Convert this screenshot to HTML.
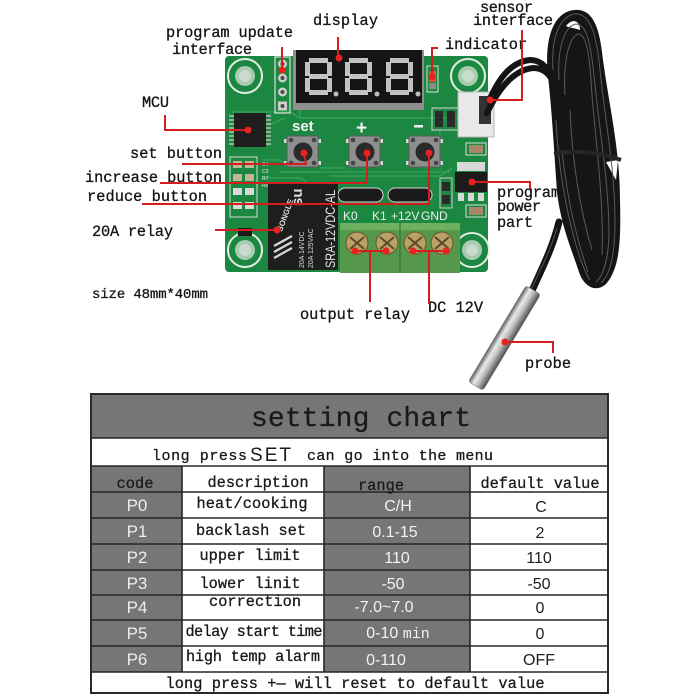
<!DOCTYPE html>
<html><head><meta charset="utf-8"><style>
html,body{margin:0;padding:0;background:#fff;width:700px;height:700px;overflow:hidden}
svg{display:block}
.l{font-family:"Liberation Mono",monospace;font-size:15.3px;fill:#151515;stroke:#151515;stroke-width:.3}
.m{font-family:"Liberation Mono",monospace;fill:#1a1a1a;stroke:#1a1a1a;stroke-width:.3}
.s{font-family:"Liberation Sans",sans-serif}
</style></head><body>
<svg width="700" height="700" viewBox="0 0 700 700" xmlns="http://www.w3.org/2000/svg">
<defs>
 <linearGradient id="probe" x1="0" y1="0" x2="1" y2="0">
  <stop offset="0" stop-color="#5e5e5e"/><stop offset=".3" stop-color="#e9e9e9"/><stop offset=".55" stop-color="#c4c4c4"/><stop offset="1" stop-color="#4d4d4d"/>
 </linearGradient>
 <g id="dig" fill="#c2c2c2">
  <rect x="4" y="0" width="19" height="5"/>
  <rect x="22" y="4" width="5" height="14"/>
  <rect x="22" y="20" width="5" height="14"/>
  <rect x="4" y="32" width="19" height="5"/>
  <rect x="0" y="20" width="5" height="14"/>
  <rect x="0" y="4" width="5" height="14"/>
  <rect x="4" y="16" width="19" height="5"/>
 </g>
 <g id="btn">
  <rect x="-3" y="-13" width="37" height="4" fill="#d8d8d8"/>
  <rect x="-3" y="9" width="37" height="4" fill="#d8d8d8"/>
  <rect x="0" y="-16" width="31" height="31" fill="#8e8e8e" stroke="#5a5a5a"/>
  <circle cx="4" cy="-12" r="2.3" fill="#444"/><circle cx="27" cy="-12" r="2.3" fill="#444"/>
  <circle cx="4" cy="11" r="2.3" fill="#444"/><circle cx="27" cy="11" r="2.3" fill="#444"/>
  <circle cx="16" cy="0" r="9.5" fill="#2a2a2a"/>
 </g>
</defs>

<!-- PCB -->
<rect x="225" y="56" width="263" height="216" rx="4" fill="#1c8740"/>
<g stroke="#3aa85c" stroke-width="1.4" fill="none" opacity=".8">
 <path d="M232 112 H290 L300 118 H470"/>
 <path d="M268 125 L285 118"/>
 <path d="M280 172 H450"/>
 <path d="M262 178 H300 L310 184 H335"/>
 <path d="M440 130 V170"/>
 <path d="M300 118 V100"/>
 <path d="M330 176 H440 L452 168"/>
 <path d="M262 160 H280 L286 166"/>
 <path d="M320 168 H345"/>
</g>
<!-- mounting holes -->
<g fill="none" stroke="#e3eee3" stroke-width="2">
 <circle cx="245" cy="76" r="17"/><circle cx="468" cy="76" r="17"/>
 <circle cx="245" cy="250" r="17"/><circle cx="472" cy="250" r="17"/>
</g>
<g fill="#a8ccb0"><circle cx="245" cy="76" r="10"/><circle cx="468" cy="76" r="10"/><circle cx="245" cy="250" r="10"/><circle cx="472" cy="250" r="10"/></g>
<g fill="#c9dbcd"><circle cx="245" cy="76" r="6"/><circle cx="468" cy="76" r="6"/><circle cx="245" cy="250" r="6"/><circle cx="472" cy="250" r="6"/></g>

<!-- display -->
<rect x="293" y="50" width="131" height="60" fill="#8f8f8f"/>
<rect x="296" y="50" width="126" height="53" fill="#151515"/>
<use href="#dig" x="305" y="58"/>
<use href="#dig" x="345" y="58"/>
<use href="#dig" x="386" y="58"/>
<g fill="#bdbdbd"><circle cx="336" cy="94" r="2.5"/><circle cx="377" cy="94" r="2.5"/><circle cx="418" cy="94" r="2.5"/></g>

<!-- header pins -->
<rect x="275" y="57" width="15" height="56" fill="none" stroke="#e0e0e0" stroke-width="1.2"/>
<g fill="#cfcfcf"><circle cx="282.5" cy="64" r="4.5"/><circle cx="282.5" cy="78" r="4.5"/><circle cx="282.5" cy="92" r="4.5"/><rect x="278" y="101.5" width="9" height="9"/></g>
<g fill="#4a4a4a"><circle cx="282.5" cy="64" r="2"/><circle cx="282.5" cy="78" r="2"/><circle cx="282.5" cy="92" r="2"/><circle cx="282.5" cy="106" r="2"/></g>

<!-- LED -->
<rect x="427" y="66" width="11" height="26" fill="none" stroke="#dcdcdc"/>
<rect x="429" y="71" width="7" height="11" fill="#d4553a"/>
<rect x="429" y="83" width="7" height="6" fill="#8a8a8a"/>
<rect x="432" y="108" width="26" height="22" fill="none" stroke="#d5d5d5"/>
<rect x="435" y="111" width="8" height="16" fill="#2a2a2a"/><rect x="447" y="111" width="8" height="16" fill="#2a2a2a"/>

<!-- MCU -->
<g stroke="#bdbdbd" stroke-width="1.6">
 <path d="M229 116H235M229 120H235M229 124H235M229 128H235M229 132H235M229 136H235M229 140H235M229 144H235"/>
 <path d="M265 116H271M265 120H271M265 124H271M265 128H271M265 132H271M265 136H271M265 140H271M265 144H271"/>
</g>
<rect x="234" y="113" width="32" height="34" fill="#1f1f1f"/>

<text x="292" y="131" class="s" font-size="15" font-weight="bold" fill="#f4f4f4">set</text>
<text x="356" y="134" class="s" font-size="19" font-weight="bold" fill="#f4f4f4">+</text>
<rect x="414" y="125" width="9" height="2.5" fill="#f0f0f0"/>

<use href="#btn" x="287" y="152"/>
<use href="#btn" x="349" y="152"/>
<use href="#btn" x="409" y="152"/>

<!-- left SMDs -->
<rect x="230" y="157" width="27" height="60" fill="none" stroke="#d8d8d8" stroke-width="1"/>
<g fill="#c3b397"><rect x="233" y="161" width="9" height="7"/><rect x="245" y="161" width="9" height="7"/><rect x="233" y="174" width="9" height="7"/><rect x="245" y="174" width="9" height="7"/></g>
<g fill="#d8d8d8"><rect x="233" y="188" width="9" height="7"/><rect x="245" y="188" width="9" height="7"/><rect x="233" y="202" width="9" height="7"/><rect x="245" y="202" width="9" height="7"/></g>
<g class="s" font-size="5" fill="#eee"><text x="262" y="166">C4</text><text x="262" y="173">C3</text><text x="262" y="180">R7</text><text x="262" y="187">R6</text></g>
<rect x="238" y="228" width="14" height="8" fill="#1b1b1b"/>

<!-- jumpers -->
<rect x="338" y="188" width="45" height="14" rx="7" fill="#1a1a1a" stroke="#d5d5d5"/>
<rect x="388" y="188" width="44" height="14" rx="7" fill="#1a1a1a" stroke="#d5d5d5"/>
<rect x="440" y="178" width="12" height="30" fill="none" stroke="#ccc"/>
<rect x="442" y="182" width="8" height="9" fill="#2a2a2a"/><rect x="442" y="195" width="8" height="9" fill="#2a2a2a"/>

<!-- relay -->
<rect x="268" y="184" width="70" height="86" fill="#1e1e1e"/>
<g stroke="#d8d8d8" stroke-width="2.2">
 <path d="M274 246L292 236M274 252L292 242M274 258L292 248"/>
</g>
<text transform="translate(282,232) rotate(-70)" class="s" font-size="8" font-weight="bold" fill="#ddd">SONGLE</text>
<text transform="translate(302,206) rotate(-90)" class="s" font-size="15" font-weight="bold" fill="#ddd">su</text>
<text transform="translate(304,268) rotate(-90)" class="s" font-size="7" fill="#ddd">20A 14VDC</text>
<text transform="translate(313,268) rotate(-90)" class="s" font-size="7" fill="#ddd">20A 125VAC</text>
<text transform="translate(335,268) rotate(-90)" class="s" font-size="13.5" fill="#e6e6e6" textLength="78" lengthAdjust="spacingAndGlyphs">SRA-12VDC-AL</text>

<g class="s" font-size="12" fill="#f0f0f0">
 <text x="343" y="220">K0</text><text x="372" y="220">K1</text><text x="391" y="220">+12V</text><text x="421" y="220">GND</text>
</g>
<rect x="340" y="223" width="120" height="50" fill="#55984b"/>
<rect x="340" y="223" width="120" height="7" fill="#6cb060"/>
<path d="M400 223V273" stroke="#3d7a36" stroke-width="1.5"/>
<g fill="#b9a265" stroke="#6e5f35" stroke-width="1.2">
 <circle cx="357" cy="243" r="11"/><circle cx="387" cy="243" r="11"/><circle cx="415" cy="243" r="11"/><circle cx="442" cy="243" r="11"/>
</g>
<g stroke="#5a4a2a" stroke-width="2">
 <path d="M350 237L364 249M350 249L364 237M380 237L394 249M380 249L394 237M408 237L422 249M408 249L422 237M435 237L449 249M435 249L449 237"/>
</g>

<!-- right side parts -->
<rect x="458" y="92" width="36" height="45" fill="#e9e9e9" stroke="#b5b5b5"/>
<rect x="479" y="96" width="12" height="28" fill="#333"/>
<rect x="466" y="143" width="20" height="12" fill="none" stroke="#ddd"/>
<rect x="469" y="145" width="14" height="8" fill="#a8856a"/>
<rect x="457" y="162" width="28" height="9" fill="#d8d8d8"/>
<rect x="455" y="172" width="32" height="20" fill="#1b1b1b"/>
<g fill="#d8d8d8"><rect x="458" y="193" width="6" height="8"/><rect x="468" y="193" width="6" height="8"/><rect x="478" y="193" width="6" height="8"/></g>
<rect x="466" y="205" width="20" height="12" fill="none" stroke="#ddd"/>
<rect x="469" y="207" width="14" height="8" fill="#a8856a"/>

<!-- annotation labels -->
<text class="l" x="313" y="25" textLength="65">display</text>
<text class="l" x="166" y="37" textLength="127">program update</text>
<text class="l" x="172" y="54" textLength="80">interface</text>
<text class="l" x="142" y="107" textLength="27">MCU</text>
<text class="l" x="130" y="158" textLength="92">set button</text>
<text class="l" x="85" y="182" textLength="137">increase button</text>
<text class="l" x="87" y="201" textLength="120">reduce button</text>
<text class="l" x="92" y="236" textLength="81">20A relay</text>
<text class="l" x="92" y="298" textLength="116" style="font-size:14px">size 48mm*40mm</text>
<text class="l" x="300" y="319" textLength="110">output relay</text>
<text class="l" x="428" y="312" textLength="55">DC 12V</text>
<text class="l" x="480" y="12" textLength="53">sensor</text>
<text class="l" x="473" y="25" textLength="80">interface</text>
<text class="l" x="445" y="49" textLength="82">indicator</text>
<text class="l" x="497" y="197" textLength="63">program</text>
<text class="l" x="497" y="211" textLength="44">power</text>
<text class="l" x="497" y="227" textLength="36">part</text>
<text class="l" x="525" y="368" textLength="46">probe</text>

<!-- cable -->
<g fill="none" stroke="#141414" stroke-linecap="round">
 <path d="M489 101 C498 80 510 62 530 60 C540 60 546 66 550 74" stroke-width="6"/>
 <path d="M487 113 C497 92 512 70 533 68 C542 68 548 72 552 80" stroke-width="6"/>
</g>
<path d="M548 76 C544 40 553 12 574 10 C594 8 600 30 603 60 C609 105 620 150 620 200 C621 240 620 268 606 284 C596 293 584 287 579 272 C570 245 561 225 557 192 C554 150 552 112 548 76 Z" fill="#151515"/>
<path d="M566 26 C572 18 580 20 580 30 C575 28 570 28 566 26 Z" fill="#fff"/>
<path d="M606 162 L618 160 L616 180 Z" fill="#fff"/>
<g fill="none" stroke="#5a5a5a" stroke-width="1">
 <path d="M553 70 C551 40 558 18 574 14 C592 12 597 40 600 70 C605 120 615 170 615 220 C615 255 610 275 601 283"/>
 <path d="M559 80 C557 50 564 26 576 24 C589 24 592 55 595 85 C600 135 609 185 609 235 C608 260 604 275 596 282"/>
 <path d="M565 95 C563 65 568 38 578 34 C588 34 590 62 592 95 C596 145 604 200 602 255"/>
 <path d="M556 120 C558 165 566 210 576 245 C581 262 586 274 590 280"/>
 <path d="M562 150 C567 200 577 240 588 272"/>
 <path d="M570 110 C572 160 580 210 592 250"/>
</g>
<path d="M554 154 C575 150 600 152 621 160" fill="none" stroke="#262626" stroke-width="4"/>
<path d="M559 222 C552 250 541 270 531 293" fill="none" stroke="#141414" stroke-width="7" stroke-linecap="round"/>
<path d="M557 228 C550 252 540 270 532 288" fill="none" stroke="#555" stroke-width="1"/>

<rect x="-8.5" y="-56" width="17" height="112" rx="3" transform="translate(504.5,338) rotate(31)" fill="url(#probe)" stroke="#777" stroke-width=".6"/>

<!-- red annotation lines -->
<g fill="none" stroke="#d21e1e" stroke-width="2">
 <path d="M338 37V58"/>
 <path d="M282 47V70"/>
 <path d="M165 115V130H248"/>
 <path d="M182 164H306L304 153"/>
 <path d="M160 183H367V153"/>
 <path d="M142 204H429V153"/>
 <path d="M215 230H277"/>
 <path d="M355 251H386M370 251V302"/>
 <path d="M413 251H446M429 251V304"/>
 <path d="M438 48H432V77"/>
 <path d="M522 30V100H490"/>
 <path d="M472 182H530V189"/>
 <path d="M505 342H553V353"/>
</g>
<g fill="#e8221f">
 <circle cx="339" cy="58" r="3.5"/><circle cx="282" cy="70" r="3.5"/><circle cx="248" cy="130" r="3.5"/>
 <circle cx="304" cy="153" r="3.5"/><circle cx="367" cy="153" r="3.5"/><circle cx="429" cy="153" r="3.5"/>
 <circle cx="277" cy="230" r="3.5"/><circle cx="355" cy="251" r="3.5"/><circle cx="386" cy="251" r="3.5"/>
 <circle cx="413" cy="251" r="3.5"/><circle cx="446" cy="251" r="3.5"/><circle cx="432" cy="77" r="3.5"/>
 <circle cx="490" cy="100" r="3.5"/><circle cx="472" cy="182" r="3.5"/><circle cx="505" cy="342" r="3.5"/>
</g>

<!-- TABLE -->
<rect x="91" y="394" width="517" height="299" fill="#fff"/>
<g fill="#767676">
 <rect x="91" y="394" width="517" height="44"/>
 <rect x="91" y="466" width="91" height="206"/>
 <rect x="324" y="466" width="146" height="206"/>
</g>
<g stroke="#262626" stroke-width="1.6" fill="none">
 <path d="M91 438H608M91 466H608M91 492H608M91 518H608M91 544H608M91 570H608M91 595H608M91 620H608M91 646H608M91 672H608"/>
 <path d="M182 466V672M324 466V672M470 466V672"/>
</g>
<rect x="91" y="394" width="517" height="299" fill="none" stroke="#2a2a2a" stroke-width="2"/>

<text class="m" x="251" y="426" font-size="28" textLength="220">setting chart</text>
<text class="m" x="152" y="460" font-size="15" textLength="95">long press</text>
<text x="250" y="461" class="s" font-size="19" fill="#1a1a1a" textLength="41">SET</text>
<text class="m" x="307" y="460" font-size="15" textLength="186">can go into the menu</text>

<g class="m" font-size="15.3" text-anchor="middle">
 <text x="135" y="488" textLength="37">code</text>
 <text x="258" y="487" textLength="101">description</text>
 <text x="381" y="490" textLength="46">range</text>
 <text x="540" y="488" textLength="119">default value</text>
 <text x="252" y="508" textLength="111">heat/cooking</text>
 <text x="251" y="535" textLength="110">backlash set</text>
 <text x="250" y="560" textLength="101">upper limit</text>
 <text x="250" y="588" textLength="101">lower linit</text>
 <text x="255" y="606" textLength="92">correction</text>
 <text x="254" y="636" textLength="137">delay start time</text>
 <text x="253" y="661" textLength="134">high temp alarm</text>
 <text x="355" y="688" textLength="379">long press +— will reset to default value</text>
</g>
<g class="s" font-size="17" fill="#ededed" text-anchor="middle">
 <text x="137" y="511">P0</text><text x="137" y="537">P1</text><text x="137" y="563">P2</text><text x="137" y="589">P3</text>
 <text x="137" y="613">P4</text><text x="137" y="639">P5</text><text x="137" y="665">P6</text>
</g>
<g class="s" font-size="16" fill="#f3f3f3" text-anchor="middle">
 <text x="398" y="511">C/H</text><text x="395" y="537">0.1-15</text><text x="397" y="563">110</text><text x="393" y="589">-50</text>
 <text x="384" y="612">-7.0~7.0</text>
 <text x="398" y="638">0-10 <tspan font-family="Liberation Mono" font-size="15">min</tspan></text>
 <text x="386" y="665">0-110</text>
</g>
<g class="s" font-size="16" fill="#1e1e1e" text-anchor="middle">
 <text x="541" y="512">C</text><text x="540" y="538">2</text><text x="539" y="563">110</text><text x="539" y="589">-50</text>
 <text x="540" y="613">0</text><text x="540" y="639">0</text><text x="539" y="665">OFF</text>
</g>
</svg>
</body></html>
